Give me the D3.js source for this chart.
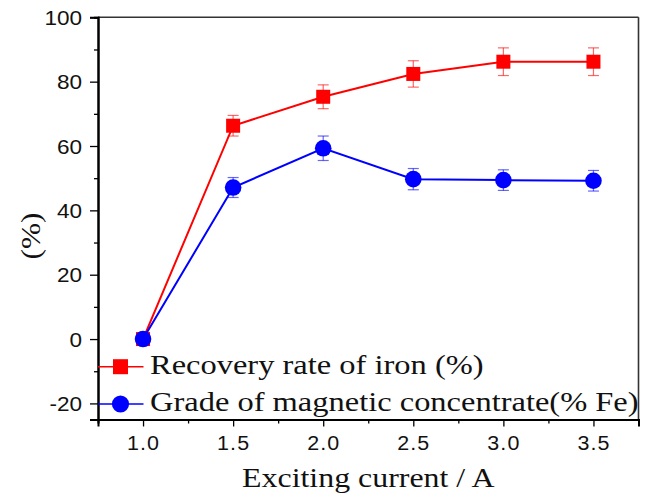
<!DOCTYPE html>
<html>
<head>
<meta charset="utf-8">
<script src="https://cdn.jsdelivr.net/npm/d3@7"></script>
<style>
  html, body { margin: 0; padding: 0; background: #fff; }
  svg { display: block; }
</style>
</head>
<body>
<svg id="chart" width="649" height="496"></svg>
<script>
// Exciting current (A)
const currents = [1.0, 1.5, 2.0, 2.5, 3.0, 3.5];
// Recovery rate of iron (%) and its error
const recovery = [0, 66.3, 75.3, 82.4, 86.2, 86.2];
const recoveryErr = [0, 3.2, 3.7, 4.1, 4.3, 4.3];
// Grade of magnetic concentrate (% Fe) and its error
const grade = [0, 47.1, 59.3, 49.7, 49.4, 49.2];
const gradeErr = [0, 3.1, 3.8, 3.3, 3.2, 3.2];

const xTicks = [1.0, 1.5, 2.0, 2.5, 3.0, 3.5];
const xMinor = [0.75, 1.25, 1.75, 2.25, 2.75, 3.25, 3.75];
const yTicks = [-20, 0, 20, 40, 60, 80, 100];
const yMinor = [-10, 10, 30, 50, 70, 90];

const seriesNames = ["Recovery rate of iron (%)", "Grade of magnetic concentrate(% Fe)"];
const xTitle = "Exciting current / A";
const yTitle = "(%)";

const svg = d3.select("#chart");
const plotLeft = 98, plotRight = 638.5, plotTop = 17.3, plotBottom = 419.5;
const SANS = "'Liberation Sans', Arial, sans-serif";
const SERIF = "'Liberation Serif', 'Times New Roman', serif";
const STRETCH = 1.16;

const x = d3.scaleLinear().domain([0.75, 3.75]).range([plotLeft, plotRight]);
const y = d3.scaleLinear().domain([-25, 100]).range([plotBottom, plotTop]);

// widen glyphs along the reading direction, keeping the anchor point
function stretchText(sel, sx) {
  sel.each(function () {
    const t = d3.select(this);
    const tx = +t.attr("x") || 0, ty = +t.attr("y") || 0;
    t.attr("x", 0).attr("y", 0)
      .attr("transform", `translate(${tx},${ty}) scale(${sx},1)`);
  });
}

// frame: top and right borders
svg.append("line").attr("x1", plotLeft).attr("x2", plotRight).attr("y1", plotTop).attr("y2", plotTop)
  .attr("stroke", "#333").attr("stroke-width", 1.6);
svg.append("line").attr("x1", plotRight).attr("x2", plotRight).attr("y1", plotTop).attr("y2", plotBottom)
  .attr("stroke", "#333").attr("stroke-width", 1.6);

// left axis
const yAxisG = svg.append("g").attr("transform", `translate(${plotLeft},0)`);
yAxisG.append("g").call(d3.axisLeft(y).tickValues(yMinor).tickSize(4).tickFormat(""));
yAxisG.append("g").call(d3.axisLeft(y).tickValues(yTicks).tickSize(8).tickPadding(8).tickFormat(d => String(d)));
yAxisG.selectAll(".domain").attr("stroke", "#000").attr("stroke-width", 2);
yAxisG.selectAll(".tick line").attr("stroke", "#000").attr("stroke-width", 1.3);
yAxisG.selectAll(".tick text")
  .attr("font-family", SANS).attr("font-size", 20.5).attr("fill", "#111")
  .attr("dy", "0.35em");
stretchText(yAxisG.selectAll(".tick text"), 1.1);

// bottom axis
const xAxisG = svg.append("g").attr("transform", `translate(0,${plotBottom})`);
xAxisG.append("g").call(d3.axisBottom(x).tickValues(xMinor).tickSize(4).tickFormat(""));
xAxisG.append("g").call(d3.axisBottom(x).tickValues(xTicks).tickSize(7).tickPadding(9.5).tickFormat(d3.format(".1f")));
xAxisG.selectAll(".domain").attr("stroke", "#000").attr("stroke-width", 2);
xAxisG.selectAll(".tick line").attr("stroke", "#000").attr("stroke-width", 1.3);
xAxisG.selectAll(".tick text")
  .attr("font-family", SANS).attr("font-size", 19.5).attr("fill", "#111")
  .attr("dy", "0.71em").attr("letter-spacing", 1);
stretchText(xAxisG.selectAll(".tick text"), 1.1);

// axis titles
svg.append("text").attr("x", (plotLeft + plotRight) / 2).attr("y", 486.5)
  .attr("text-anchor", "middle").attr("font-family", SERIF).attr("font-size", 27.5)
  .attr("fill", "#111").text(xTitle)
  .call(s => stretchText(s, STRETCH));

svg.append("g").attr("transform", "translate(40,236) rotate(-90)")
  .append("text").attr("text-anchor", "middle").attr("font-family", SERIF)
  .attr("font-size", 27).attr("fill", "#111").text(yTitle)
  .call(s => stretchText(s, STRETCH));

// series
const series = [
  { vals: recovery, err: recoveryErr, color: "#ff0000", shape: "square" },
  { vals: grade, err: gradeErr, color: "#0000ff", shape: "circle" }
];

const line = d3.line().x(d => x(d[0])).y(d => y(d[1]));

series.forEach(s => {
  const pts = currents.map((c, i) => [c, s.vals[i], s.err[i]]);
  const g = svg.append("g");
  g.append("path").attr("d", line(pts)).attr("fill", "none")
    .attr("stroke", s.color).attr("stroke-width", 2);

  // error bars
  const eb = g.selectAll(".eb").data(pts.filter(p => p[2] > 0)).join("g")
    .attr("class", "eb")
    .attr("stroke", s.color).attr("stroke-opacity", 0.6).attr("stroke-width", 1.2);
  eb.append("line").attr("x1", d => x(d[0])).attr("x2", d => x(d[0]))
    .attr("y1", d => y(d[1] - d[2])).attr("y2", d => y(d[1] + d[2]));
  eb.append("line").attr("x1", d => x(d[0]) - 5.5).attr("x2", d => x(d[0]) + 5.5)
    .attr("y1", d => y(d[1] + d[2])).attr("y2", d => y(d[1] + d[2]));
  eb.append("line").attr("x1", d => x(d[0]) - 5.5).attr("x2", d => x(d[0]) + 5.5)
    .attr("y1", d => y(d[1] - d[2])).attr("y2", d => y(d[1] - d[2]));

  if (s.shape === "square") {
    g.selectAll("rect").data(pts).join("rect")
      .attr("x", d => x(d[0]) - 7).attr("y", d => y(d[1]) - 7)
      .attr("width", 14).attr("height", 14).attr("fill", s.color);
  } else {
    g.selectAll("circle").data(pts).join("circle")
      .attr("cx", d => x(d[0])).attr("cy", d => y(d[1])).attr("r", 8.3)
      .attr("fill", s.color);
  }
});

// legend
const legendRows = [
  { name: seriesNames[0], color: "#ff0000", shape: "square", cy: 366.7 },
  { name: seriesNames[1], color: "#0000ff", shape: "circle", cy: 404 }
];
legendRows.forEach(r => {
  const g = svg.append("g");
  g.append("line").attr("x1", plotLeft).attr("x2", 143.5).attr("y1", r.cy).attr("y2", r.cy)
    .attr("stroke", r.color).attr("stroke-width", 1.6);
  if (r.shape === "square") {
    g.append("rect").attr("x", 120.5 - 7.5).attr("y", r.cy - 7.5)
      .attr("width", 15).attr("height", 15).attr("fill", r.color);
  } else {
    g.append("circle").attr("cx", 120.5).attr("cy", r.cy).attr("r", 8.6).attr("fill", r.color);
  }
  g.append("text").attr("x", 150).attr("y", r.cy + 6.8)
    .attr("font-family", SERIF).attr("font-size", 28).attr("fill", "#111")
    .text(r.name)
    .call(s => stretchText(s, STRETCH));
});
</script>
</body>
</html>
